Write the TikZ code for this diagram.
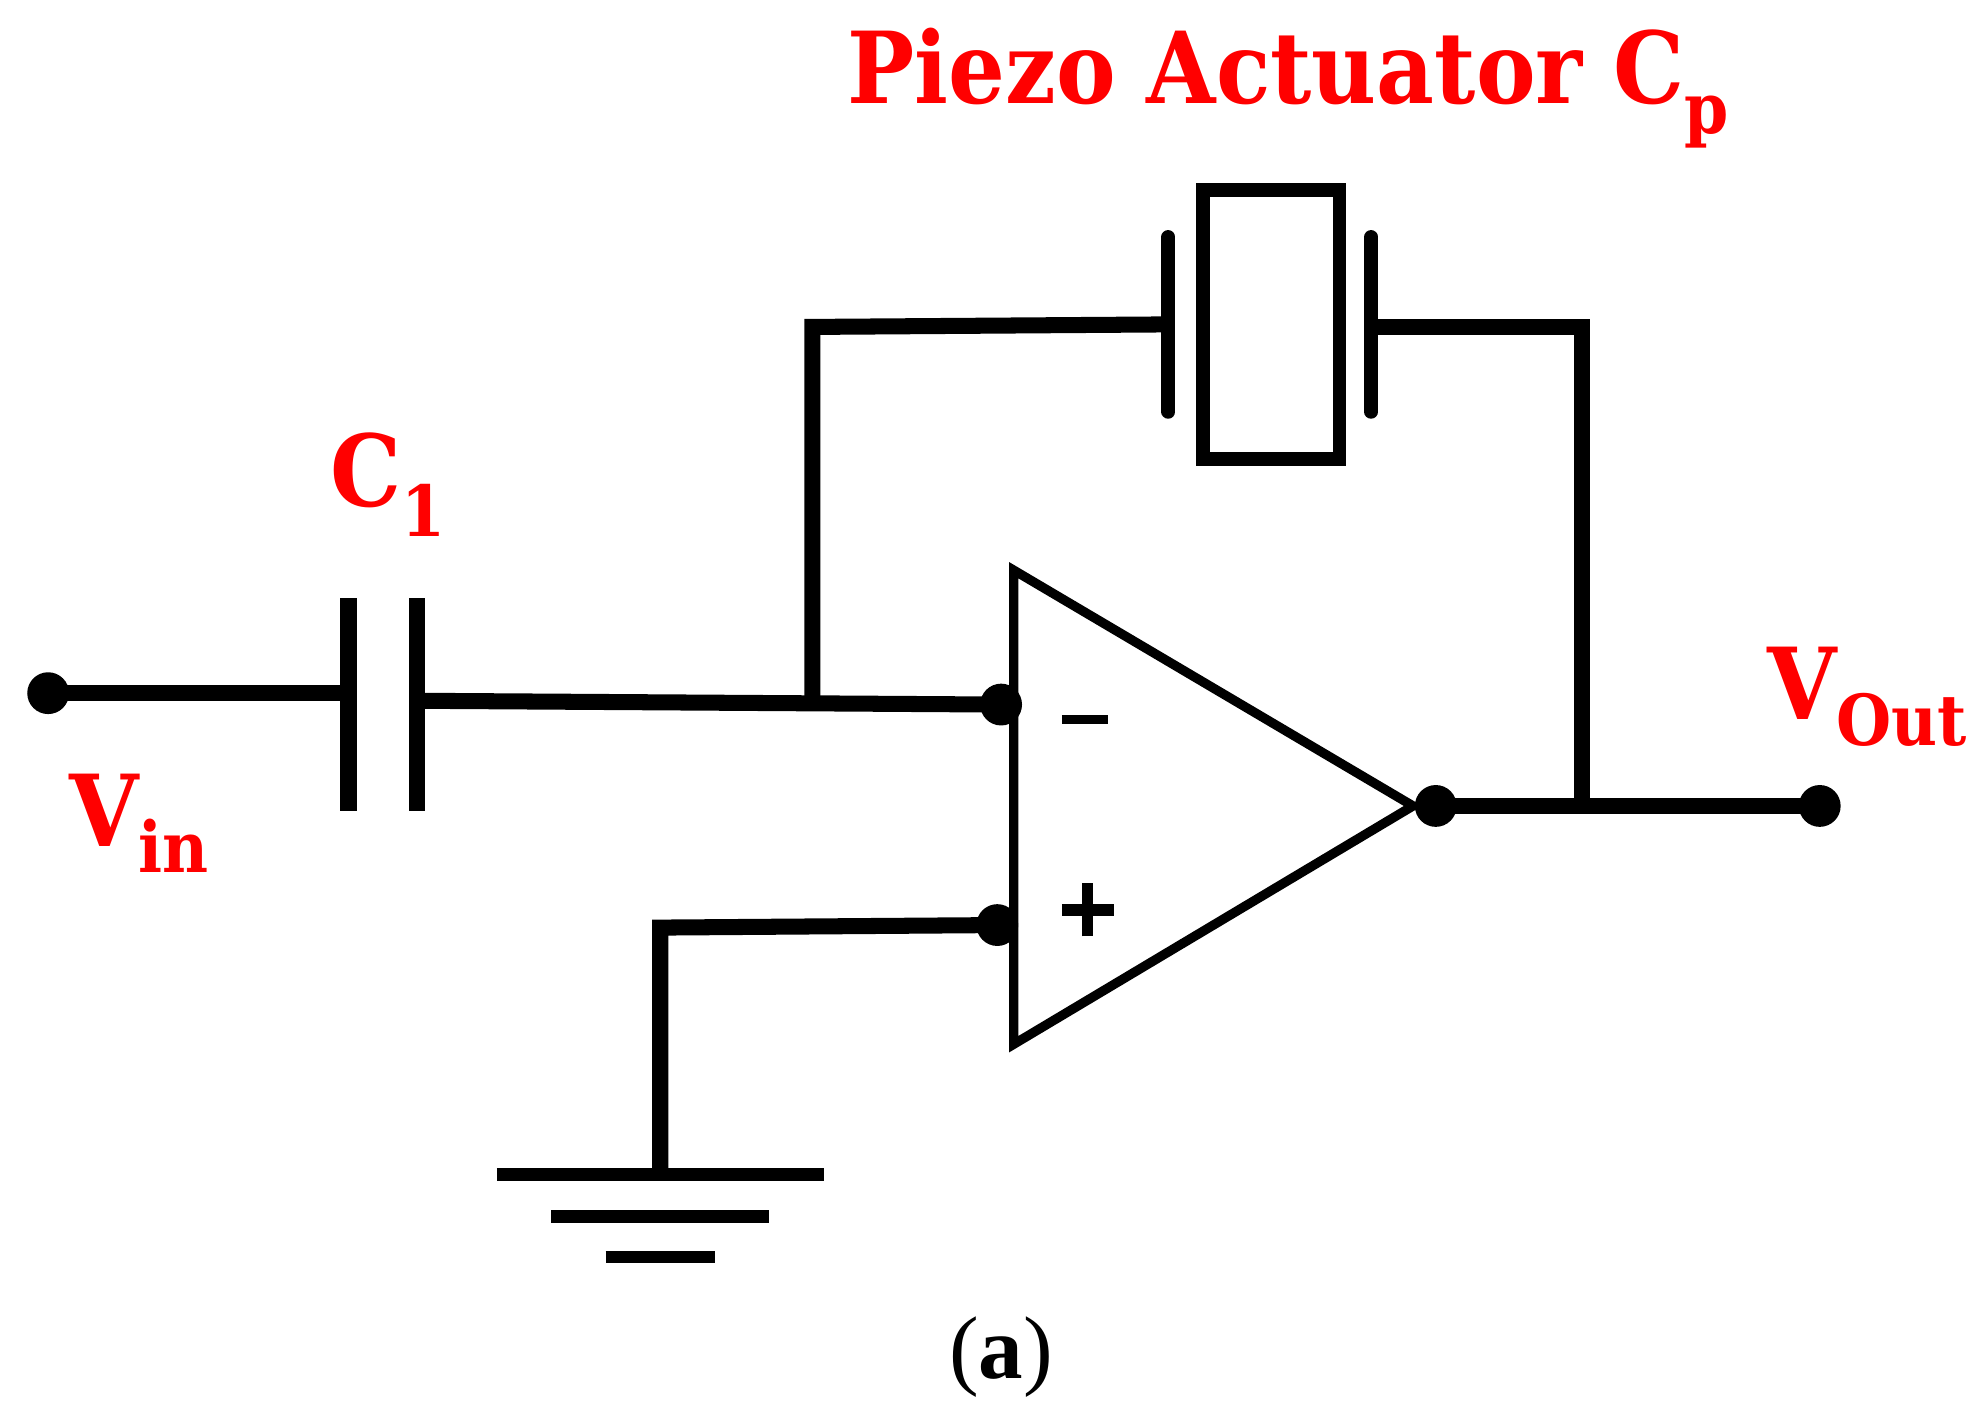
\documentclass[tikz,border=0pt]{standalone}
\usepackage{fontspec}
\setmainfont{Liberation Serif}
\newfontfamily\labelfam{DejaVu Serif Condensed}
\usepackage{xcolor}
\definecolor{label-red}{RGB}{255,0,0}
\usepackage{tikz}
\usetikzlibrary{calc}
\newcommand{\redfont}{\labelfam\fontsize{22.3}{27}\selectfont\bfseries\color{label-red}}
\newcommand{\subfont}{\fontsize{15.8}{20}\selectfont}

\begin{document}
\begin{tikzpicture}[
	wire/.style={line width=3.6pt},
	thinwire/.style={line width=2.1pt},
	platewire/.style={line width=3.1pt},
	groundwire/.style={line width=2.8pt},
	pin/.style={fill=black,circle,inner sep=0pt,minimum size=.33cm},
	redlabel/.style={inner sep=0pt,anchor=base west}
	]
	\useasboundingbox (0,0) rectangle (15.68,11.2);
	
	\coordinate (A1) at (8.00,6.70);
	\coordinate (A2) at (8.00,2.96);
	\coordinate (A3) at (11.15,4.84);
	
	\node[pin] (Vin) at (.38,5.73) {};
	\node[pin] (Inv) at (7.90,5.64) {};
	\node[pin] (Non) at (7.87,3.90) {};
	\node[pin] (Amp) at (11.33,4.84) {};
	\node[pin] (Vout) at (14.36,4.84) {};
	
	\coordinate (C1a) at (2.75,5.73);
	\coordinate (C1b) at (3.29,5.67);
	\coordinate (J1) at (6.41,5.67);
	\coordinate (J2) at (6.41,8.62);
	\coordinate (Pa) at (9.22,8.64);
	\coordinate (Pb) at (10.82,8.62);
	\coordinate (J3) at (12.48,8.62);
	\coordinate (J4) at (12.48,4.84);
	\coordinate (G1) at (5.21,3.88);
	\coordinate (G2) at (5.21,1.93);
	
	% op amp
	\draw[thinwire,line join=miter] (A1)--(A3)--(A2)--cycle;
	
	% input side
	\draw[wire] (Vin.center)--(C1a);
	\draw[wire] (2.75,6.48)--(2.75,4.80);
	\draw[wire] (3.29,6.48)--(3.29,4.80);
	\draw[wire] (C1b)--(Inv.center);
	\draw[wire] (J1)--(J2)--(Pa);
	
	% piezo
	\draw[platewire,line cap=round] (9.22,9.33)--(9.22,7.95);
	\draw[platewire] (9.49,9.70) rectangle (10.57,7.58);
	\draw[platewire,line cap=round] (10.82,9.33)--(10.82,7.95);
	\draw[wire] (Pb)--(J3)--(J4);
	\draw[wire] (Amp.center)--(Vout.center);
	
	% ground
	\draw[wire] (Non.center)--(G1)--(G2);
	\draw[groundwire] (3.92,1.93)--(6.50,1.93);
	\draw[groundwire] (4.35,1.60)--(6.07,1.60);
	\draw[groundwire] (4.78,1.28)--(5.64,1.28);
	
	\draw[line width=2pt] (8.38,5.52)--(8.74,5.52);
	\draw[line width=2.6pt] (8.38,4.02)--(8.79,4.02) (8.58,3.81)--(8.58,4.23);
	
	\node[redlabel] (LCp) at (6.68,10.38) {\redfont Piezo Actuator C\raisebox{-.3em}{\subfont p}};
	\node[redlabel] (LC1) at (2.60,7.20) {\redfont C\raisebox{-.3em}{\subfont 1}};
	\node[redlabel] (LVin) at (.54,4.52) {\redfont V\raisebox{-.26em}{\subfont in}};
	\node[redlabel] (LVout) at (13.94,5.52) {\redfont V\raisebox{-.26em}{\subfont Out}};
	\node[inner sep=0pt,anchor=base] (LA) at (7.9,.32) {\fontsize{20}{24}\selectfont ({\bfseries a})};
\end{tikzpicture}
\end{document}
